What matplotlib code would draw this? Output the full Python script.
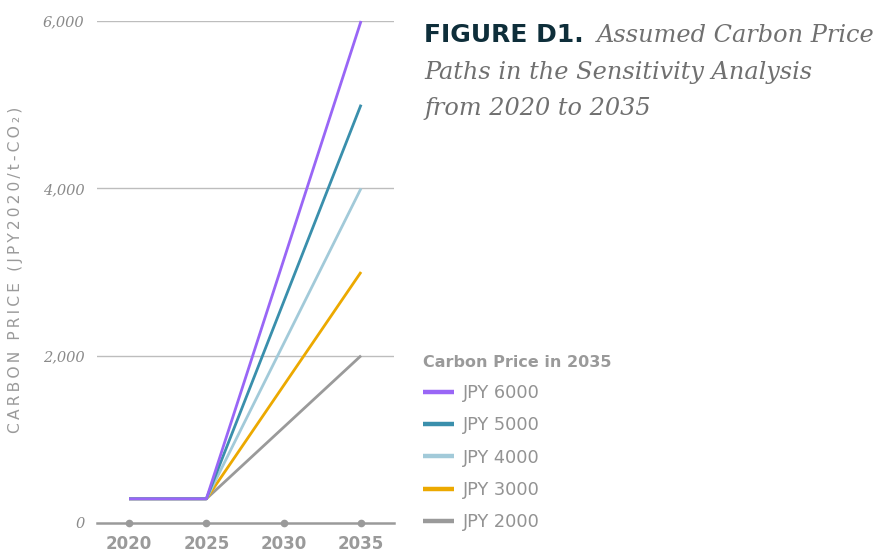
import matplotlib.pyplot as plt
from matplotlib.lines import Line2D

# Carbon price paths, JPY2020 per t-CO2
years = [2020, 2025, 2035]
labels = ['JPY 6000', 'JPY 5000', 'JPY 4000', 'JPY 3000', 'JPY 2000']
price_2020 = 289
price_2025 = 289
price_2035 = [6000, 5000, 4000, 3000, 2000]
colors = ['#9966f6', '#3a8fac', '#a2cad9', '#eca900', '#9a9a9a']

x_ticks = [2020, 2025, 2030, 2035]
y_ticks = [0, 2000, 4000, 6000]
y_ticklabels = ['0', '2,000', '4,000', '6,000']

fig = plt.figure(figsize=(8.79, 5.54), dpi=100)
ax = fig.add_axes([97 / 879, 1 - 523 / 554, 297 / 879, 502 / 554])

# draw the low paths first so the purple one sits on top
handles = []
for lab, end, col in reversed(list(zip(labels, price_2035, colors))):
    ax.plot(years, [price_2020, price_2025, end], color=col, lw=2.0,
            solid_capstyle='butt', zorder=3, clip_on=False)
for lab, col in zip(labels, colors):
    handles.append(Line2D([], [], color=col, lw=3.2, solid_capstyle='butt', label=lab))

ax.set_xlim(2017.93, 2037.13)
ax.set_ylim(0, 6000)

for v in y_ticks[1:]:
    ax.axhline(v, color='#bdbdbd', lw=1.0, zorder=1)
ax.axhline(0, color='#9a9a9a', lw=1.8, zorder=2, clip_on=False)
ax.plot(x_ticks, [0] * len(x_ticks), 'o', color='#9a9a9a', ms=4.5, zorder=4, clip_on=False)

for s in ax.spines.values():
    s.set_visible(False)
ax.tick_params(length=0)
ax.set_xticks(x_ticks)
ax.set_xticklabels([str(x) for x in x_ticks], fontsize=12, fontweight='bold',
                   color='#9a9a9a', family='DejaVu Sans')
ax.tick_params(axis='x', pad=8.5)
ax.set_yticks(y_ticks)
ax.set_yticklabels(y_ticklabels, fontsize=10.5, style='italic', color='#8a8a8a',
                   family='DejaVu Serif')
ax.tick_params(axis='y', pad=9)

ylabel = '\u2009'.join('CARBON PRICE (JPY2020/t-CO₂)')
fig.text(16 / 879, 1 - 270 / 554, ylabel, rotation=90, ha='center', va='center',
         fontsize=11.2, color='#9a9a9a', family='DejaVu Sans')

# figure caption
fig.text(424 / 879, 1 - 42 / 554, 'FIGURE D1.', fontsize=18, fontweight='bold',
         color='#0e2e3a', family='DejaVu Sans')
cap_kw = dict(fontsize=17.3, style='italic', color='#707070', family='DejaVu Serif')
fig.text(597 / 879, 1 - 42 / 554, 'Assumed Carbon Price', **cap_kw)
fig.text(424 / 879, 1 - 79 / 554, 'Paths in the Sensitivity Analysis', **cap_kw)
fig.text(424 / 879, 1 - 115 / 554, 'from 2020 to 2035', **cap_kw)

leg = fig.legend(handles=handles, title='Carbon Price in 2035', loc='upper left',
                 bbox_to_anchor=(407 / 879, 1 - 339 / 554), frameon=False,
                 alignment='left', handlelength=1.75, handletextpad=0.5,
                 labelspacing=0.80, fontsize=12.8,
                 title_fontproperties={'size': 11.5, 'weight': 'semibold',
                                       'family': 'DejaVu Sans'})
leg.get_title().set_color('#9a9a9a')
for t in leg.get_texts():
    t.set_color('#939393')

fig.savefig('out.png', dpi=100)
